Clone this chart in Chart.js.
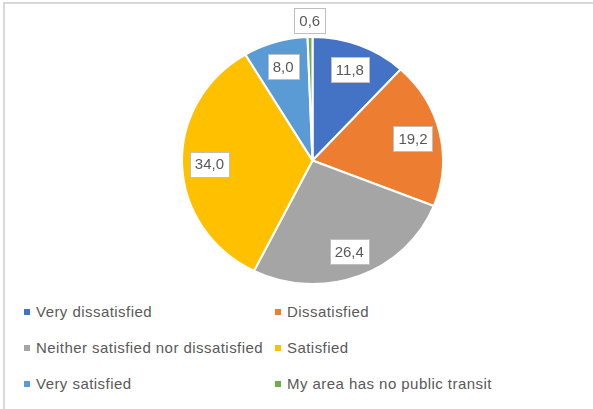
<!DOCTYPE html>
<html>
<head>
<meta charset="utf-8">
<script src="https://cdn.jsdelivr.net/npm/chart.js@4"></script>
<style>
    body { margin: 0; background: #fff; }
    #wrap { position: relative; width: 593px; height: 409px; overflow: hidden; }
    #frame { position: absolute; left: 3px; top: 2px; right: -5px; bottom: -5px; border-left: 2px solid #d9d9d9; border-top: 2px solid #d9d9d9; }
    #chartBox { position: absolute; left: 0; top: 0; width: 593px; height: 300px; }
    .leg { position: absolute; font-family: "Liberation Sans", Arial, sans-serif; font-size: 15px; letter-spacing: 0.45px; color: #595959; white-space: nowrap; line-height: 16px; }
    .leg i { position: absolute; left: -12px; top: 5px; width: 6px; height: 6px; }
</style>
</head>
<body>
<div id="wrap">
    <div id="frame"></div>
    <div id="chartBox"><canvas id="pieChart"></canvas></div>
    <div id="legend"></div>
</div>
<script>
const categories = ["Very dissatisfied", "Dissatisfied", "Neither satisfied nor dissatisfied", "Satisfied", "Very satisfied", "My area has no public transit"];
const values = [11.8, 19.2, 26.4, 34.0, 8.0, 0.6];
const colors = ['#4472C4', '#ED7D31', '#A5A5A5', '#FFC000', '#5B9BD5', '#70AD47'];

// the reference pie is a bit wider than tall
const stretchX = 1.057;

const stretchPlugin = {
    id: 'stretch',
    beforeDatasetsDraw(chart) {
        const arc = chart.getDatasetMeta(0).data[0];
        const ctx = chart.ctx;
        ctx.save();
        ctx.translate(arc.x, arc.y);
        ctx.scale(stretchX, 1);
        ctx.translate(-arc.x, -arc.y);
    },
    afterDatasetsDraw(chart) {
        chart.ctx.restore();
    }
};

const labelPlugin = {
    id: 'boxLabels',
    afterDraw(chart) {
        const ctx = chart.ctx;
        const arcs = chart.getDatasetMeta(0).data;
        ctx.save();
        ctx.font = '15px "Liberation Sans", Arial, sans-serif';
        ctx.textAlign = 'center';
        ctx.textBaseline = 'middle';
        arcs.forEach((arc, i) => {
            const mid = (arc.startAngle + arc.endAngle) / 2;
            const k = values[i] < 2 ? 1.13 : 0.79;
            const x = arc.x + Math.cos(mid) * arc.outerRadius * k * stretchX;
            const y = arc.y + Math.sin(mid) * arc.outerRadius * k;
            const txt = values[i].toFixed(1).replace('.', ',');
            const w = ctx.measureText(txt).width + 10;
            const h = 25;
            ctx.fillStyle = '#fff';
            ctx.fillRect(Math.round(x - w / 2), Math.round(y - h / 2), Math.round(w), h);
            ctx.strokeStyle = '#bfbfbf';
            ctx.lineWidth = 1;
            ctx.strokeRect(Math.round(x - w / 2) + 0.5, Math.round(y - h / 2) + 0.5, Math.round(w), h);
            ctx.fillStyle = '#595959';
            ctx.fillText(txt, x, y + 1);
        });
        ctx.restore();
    }
};

const pieElement = document.getElementById('pieChart').getContext('2d');
const pieChart = new Chart(pieElement, {
    type: 'pie',
    data: {
        labels: categories,
        datasets: [{
            data: values,
            backgroundColor: colors,
            borderColor: '#fff',
            borderWidth: 2
        }]
    },
    options: {
        responsive: true,
        maintainAspectRatio: false,
        animation: false,
        layout: {
            padding: { top: 36, bottom: 15, left: 32, right: 0 }
        },
        plugins: {
            legend: { display: false },
            tooltip: { enabled: false }
        }
    },
    plugins: [stretchPlugin, labelPlugin]
});

// legend, two columns
const legendPos = [[36, 304], [287, 304], [36, 340], [287, 340], [36, 376], [287, 376]];
const legend = document.getElementById('legend');
categories.forEach((c, i) => {
    const d = document.createElement('div');
    d.className = 'leg';
    d.style.left = legendPos[i][0] + 'px';
    d.style.top = legendPos[i][1] + 'px';
    d.innerHTML = `<i style="background:${colors[i]}"></i>${c}`;
    legend.appendChild(d);
});
</script>
</body>
</html>
